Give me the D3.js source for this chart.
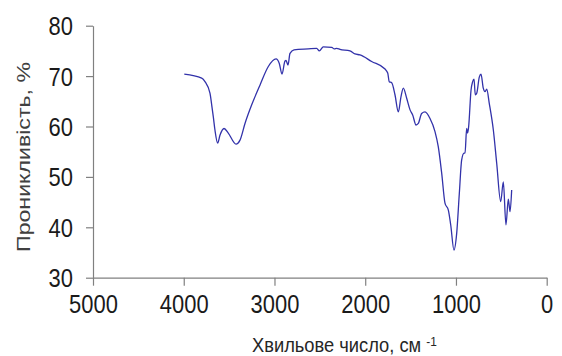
<!DOCTYPE html>
<html><head><meta charset="utf-8">
<script src="https://cdn.jsdelivr.net/npm/d3@7"></script>
<style>body{margin:0;background:#fff}svg{display:block}</style>
</head><body>
<script>
const wavenumber = [3994,3802,3766,3711,3692,3674,3656,3626,3600,3556,3509,3424,3380,3325,3251,3160,3068,2983,2947,2917,2884,2873,2851,2829,2785,2627,2535,2506,2462,2369,2341,2314,2278,2168,2113,2058,1929,1782,1752,1735,1708,1672,1635,1606,1580,1543,1506,1477,1440,1415,1378,1341,1286,1231,1195,1157,1121,1084,1058,1022,992,963,937,911,900,882,871,860,834,816,801,787,771,743,724,699,680,661,633,588,551,507,478,449,423,404,386];
const transmittance = [70.4,69.6,68.9,66.6,64.3,61.9,59.3,56.7,58.3,59.6,58.7,56.5,57.3,60.6,64.3,68.2,71.9,73.4,72.5,70.4,73.0,73.1,72.2,74.5,75.2,75.4,75.5,75.0,75.8,75.7,75.4,75.5,75.3,75.0,74.4,74.2,72.9,71.4,70.6,68.9,68.7,66.3,62.9,65.9,67.6,65.6,63.3,62.3,60.3,60.6,62.6,62.9,61.6,59.0,56.0,50.7,44.8,43.4,40.5,35.5,38.8,46.7,53.4,54.7,54.7,59.6,58.7,60.0,67.2,68.9,69.4,66.3,66.6,69.8,70.4,67.6,66.9,67.4,64.6,59.3,52.7,45.1,49.0,40.5,45.6,43.1,47.4];
const xTicks = [5000,4000,3000,2000,1000,0];
const yTicks = [30,40,50,60,70,80];

const W = 562, H = 356;
const svg = d3.select("body").append("svg").attr("width", W).attr("height", H);
const x = d3.scaleLinear().domain([5000, 0]).range([93, 546.7]);
const y = d3.scaleLinear().domain([30, 80]).range([277.7, 25.7]);
const numFont = "'Liberation Sans', Arial, sans-serif";

const gx = svg.append("g").attr("transform", `translate(0,${y(30)})`)
  .call(d3.axisBottom(x).tickValues(xTicks).tickSize(8).tickSizeOuter(0).tickPadding(10).tickFormat(d3.format("d")));
const gy = svg.append("g").attr("transform", `translate(${x(5000)},0)`)
  .call(d3.axisLeft(y).tickValues(yTicks).tickSize(7).tickSizeOuter(0).tickPadding(13).tickFormat(d3.format("d")));
[gx, gy].forEach(g => {
  g.select(".domain").attr("stroke", "#808080").attr("stroke-width", 1.2);
  g.selectAll(".tick line").attr("stroke", "#808080").attr("stroke-width", 1.2);
  g.selectAll(".tick text").attr("fill", "#1a1a1a").style("font-family", numFont).style("font-size", "25px")
    .attr("textLength", function() { return 12.2 * this.textContent.length; })
    .attr("lengthAdjust", "spacingAndGlyphs");
});
gy.selectAll(".tick text").attr("dy", "0.36em");

const line = d3.line().x((d, i) => x(wavenumber[i])).y(d => y(d)).curve(d3.curveMonotoneX);
svg.append("path").datum(transmittance).attr("d", line)
  .attr("fill", "none").attr("stroke", "#3232aa").attr("stroke-width", 1.3);

svg.append("text").attr("transform", `translate(30,157) rotate(-90)`)
  .attr("text-anchor", "middle").attr("fill", "#404040")
  .attr("textLength", 190).attr("lengthAdjust", "spacingAndGlyphs")
  .style("font-family", "'Liberation Sans', Arial, sans-serif").style("font-size", "18px")
  .text("Проникливість, %");

const xl = svg.append("text").attr("fill", "#262626")
  .style("font-family", numFont).style("font-size", "20px");
xl.append("tspan").text("Хвильове число, см ");
xl.append("tspan").attr("dy", -6).style("font-size", "13px").text("-1");
const len = xl.node().getComputedTextLength();
xl.attr("transform", `translate(252,352) scale(${185 / len},1)`);
</script>
</body></html>
